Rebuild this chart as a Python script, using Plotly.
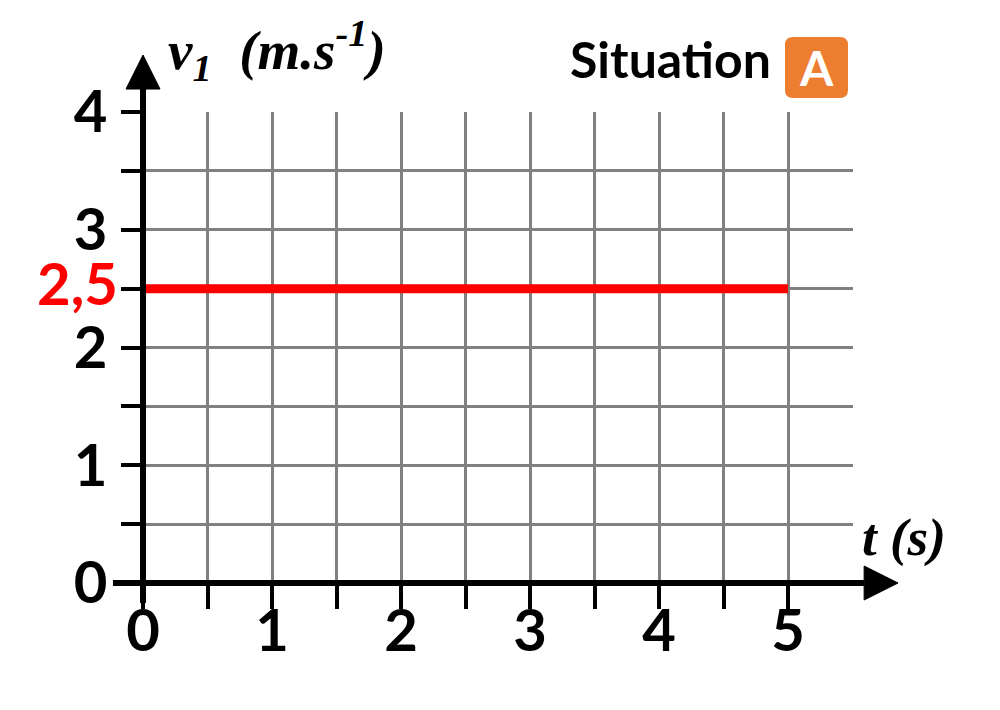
import plotly.graph_objects as go

# ---- data ----
x_tick_vals = [0, 0.5, 1, 1.5, 2, 2.5, 3, 3.5, 4, 4.5, 5]
x_tick_text = ["0", "", "1", "", "2", "", "3", "", "4", "", "5"]
y_tick_vals = [0, 0.5, 1, 1.5, 2, 2.5, 3, 3.5, 4]
y_tick_text = ["0", "", "1", "", "2", "", "3", "", "4"]
t_values = [0, 5]
v_values = [2.5, 2.5]
highlight_value = 2.5
highlight_label = "2,5"
x_max = 5.5
y_max = 4

# ---- geometry / style ----
W, H = 1000, 710
X0_PX, X_UNIT = 143, 129.0
Y0_PX, Y_UNIT = 583, 117.75

def xp(x):
    return (X0_PX + X_UNIT * x) / W

def yp(y):
    return 1 - (Y0_PX - Y_UNIT * y) / H

def px(p):
    return p / W

def py(p):
    return 1 - p / H

GRID = "#808080"
LABEL_FONT = "Lato"
SERIF = "Liberation Serif"
TICK_SIZE = 58

fig = go.Figure()
fig.add_trace(go.Scatter(
    x=t_values, y=v_values, mode="lines",
    line=dict(color="#ff0000", width=9), hoverinfo="skip", showlegend=False,
))

axis_common = dict(
    showgrid=True, gridcolor=GRID, gridwidth=3, zeroline=False, showline=False,
    ticks="outside", tickcolor="black", tickwidth=4, automargin=False,
    tickfont=dict(family=LABEL_FONT, size=TICK_SIZE, color="black", weight="bold"),
    tickmode="array", fixedrange=True,
)

fig.update_layout(
    width=W, height=H, margin=dict(l=0, r=0, t=0, b=0, autoexpand=False),
    paper_bgcolor="white", plot_bgcolor="white", showlegend=False,
    xaxis=dict(
        axis_common, domain=[xp(0), xp(x_max)], range=[0, x_max],
        tickvals=x_tick_vals, ticktext=x_tick_text, ticklen=25,
        ticklabelstandoff=-28,
        minor=dict(tickmode="array", tickvals=[x_max], showgrid=True,
                   gridcolor=GRID, gridwidth=3, ticks=""),
    ),
    yaxis=dict(
        axis_common, domain=[yp(0), yp(y_max)], range=[0, y_max],
        tickvals=y_tick_vals, ticktext=y_tick_text, ticklen=21,
        ticklabelstandoff=2,
    ),
)

# axis lines and arrowheads (paper coords derived from data scale)
x_axis_left, x_axis_right, x_tip = -0.233, 5.59, 5.853
y_axis_bottom, y_axis_top, y_tip = -0.17, 4.195, 4.484
half_w = 17  # px

fig.add_shape(type="line", xref="paper", yref="paper",
              x0=xp(x_axis_left), x1=xp(x_axis_right), y0=yp(0), y1=yp(0),
              line=dict(color="black", width=6), layer="above")
fig.add_shape(type="line", xref="paper", yref="paper",
              x0=xp(0), x1=xp(0), y0=yp(y_axis_bottom), y1=yp(y_axis_top),
              line=dict(color="black", width=6), layer="above")
fig.add_shape(type="path", xref="paper", yref="paper", layer="above",
              path=f"M {xp(x_axis_right)} {yp(0) + half_w / H} L {xp(x_tip)} {yp(0)} "
                   f"L {xp(x_axis_right)} {yp(0) - half_w / H} Z",
              fillcolor="black", line=dict(color="black", width=1))
fig.add_shape(type="path", xref="paper", yref="paper", layer="above",
              path=f"M {xp(0) - half_w / W} {yp(y_axis_top)} L {xp(0)} {yp(y_tip)} "
                   f"L {xp(0) + half_w / W} {yp(y_axis_top)} Z",
              fillcolor="black", line=dict(color="black", width=1))

# highlighted value label
fig.add_annotation(x=px(120), y=yp(highlight_value) + 6 / H, xref="paper", yref="paper",
                   text=highlight_label, showarrow=False, xanchor="right", yanchor="middle",
                   font=dict(family=LABEL_FONT, size=TICK_SIZE, color="#ff0000", weight="bold"))

# axis titles
fig.add_annotation(x=px(166), y=py(50), xref="paper", yref="paper",
                   text="<b><i>v<sub>1</sub>  (m.s<sup>-1</sup>)</i></b>",
                   showarrow=False, xanchor="left", yanchor="middle",
                   font=dict(family=SERIF, size=55, color="black"))
fig.add_annotation(x=px(860), y=py(537), xref="paper", yref="paper",
                   text="<b><i>t (s)</i></b>", showarrow=False,
                   xanchor="left", yanchor="middle",
                   font=dict(family=SERIF, size=53, color="black"))

# "Situation A" badge
fig.add_annotation(x=px(773), y=py(59), xref="paper", yref="paper",
                   text="Situation", showarrow=False, xanchor="right", yanchor="middle",
                   font=dict(family=LABEL_FONT, size=50, color="black", weight="bold"))
bx0, bx1, by0, by1, r = 785, 848, 37, 98, 8
fig.add_shape(type="path", xref="paper", yref="paper", layer="above",
              path=(f"M {px(bx0 + r)} {py(by0)} L {px(bx1 - r)} {py(by0)} "
                    f"Q {px(bx1)} {py(by0)} {px(bx1)} {py(by0 + r)} "
                    f"L {px(bx1)} {py(by1 - r)} Q {px(bx1)} {py(by1)} {px(bx1 - r)} {py(by1)} "
                    f"L {px(bx0 + r)} {py(by1)} Q {px(bx0)} {py(by1)} {px(bx0)} {py(by1 - r)} "
                    f"L {px(bx0)} {py(by0 + r)} Q {px(bx0)} {py(by0)} {px(bx0 + r)} {py(by0)} Z"),
              fillcolor="#ED7D31", line=dict(width=0))
fig.add_annotation(x=px((bx0 + bx1) / 2), y=py((by0 + by1) / 2), xref="paper", yref="paper",
                   text="A", showarrow=False, xanchor="center", yanchor="middle",
                   font=dict(family=LABEL_FONT, size=48, color="white", weight="bold"))

fig.write_html("out.html", config={"displayModeBar": False},
               post_script="document.body.style.margin='0';")
